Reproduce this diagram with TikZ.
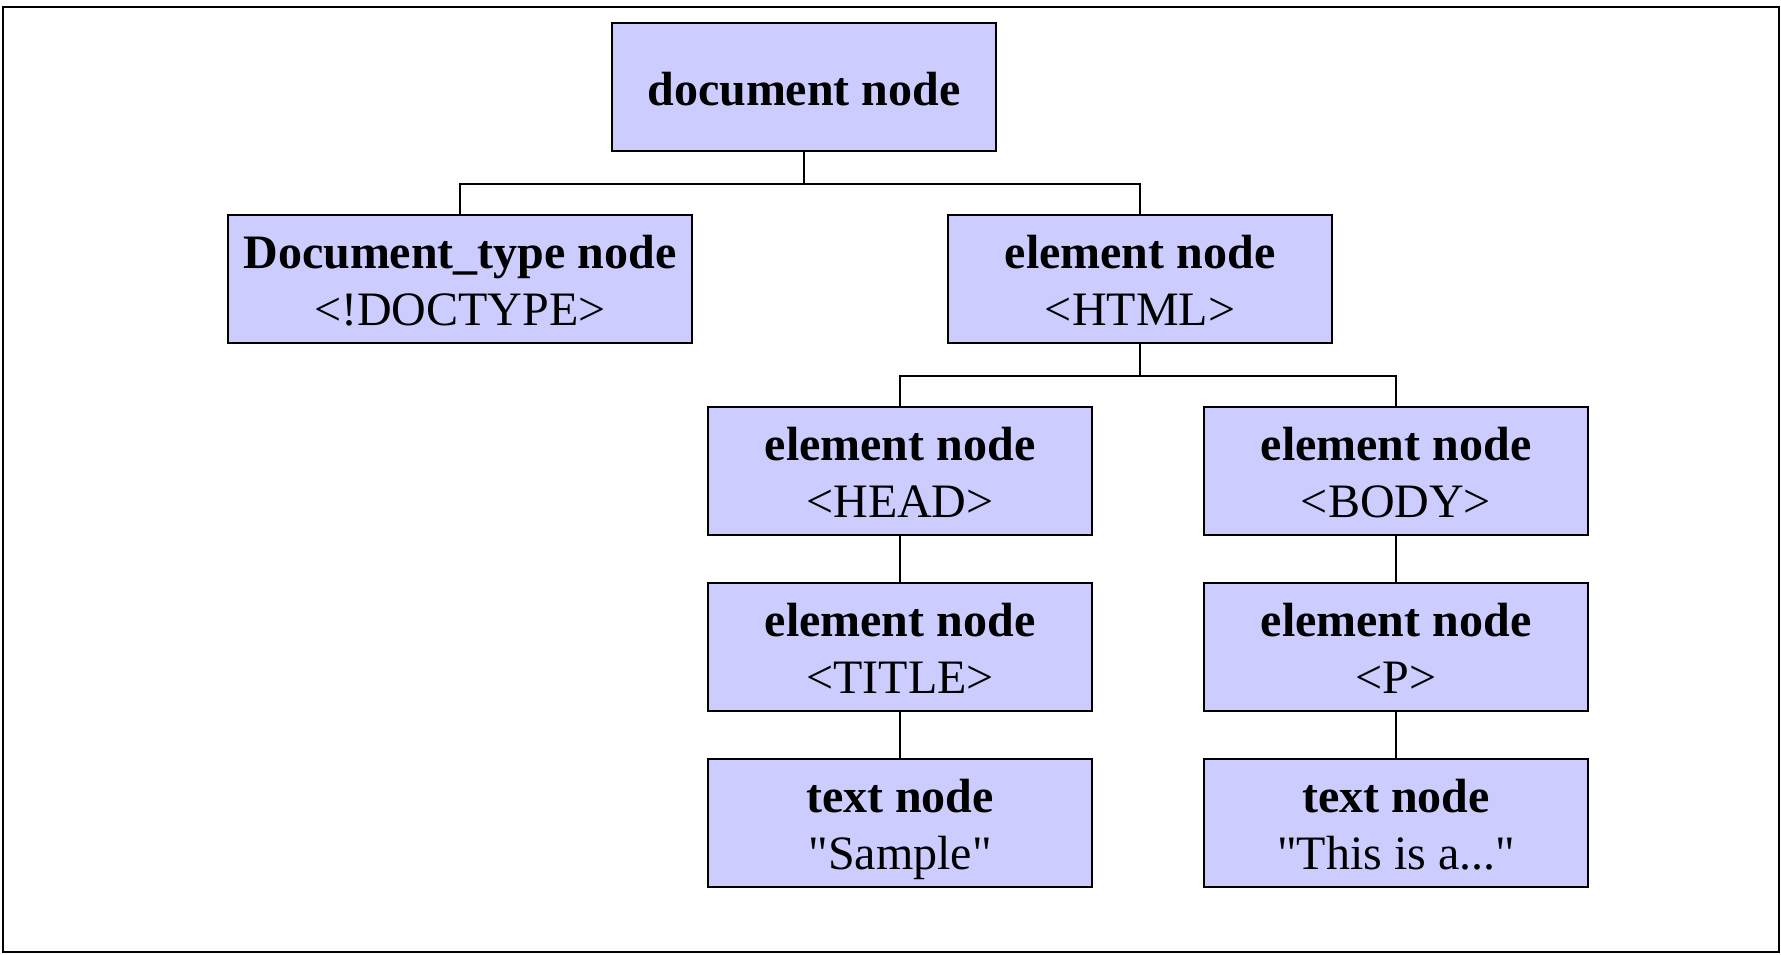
\documentclass[tikz,border=0pt]{standalone}
\usepackage{fontspec}
\setmainfont{Liberation Serif}
\definecolor{boxfill}{HTML}{CCCCFF}
\newcommand{\twolines}[2]{\rule{0pt}{54pt}\textbf{#1}\\\strut #2}
\begin{document}
\begin{tikzpicture}[x=1pt,y=1pt,
  treebox/.style={draw=black, line width=1.8pt, fill=boxfill, align=center,
    minimum width=384pt, minimum height=128pt, inner sep=0pt,
    font=\fontsize{48}{57}\selectfont},
  link/.style={draw=black, line width=1.8pt}]
\useasboundingbox (0,0) rectangle (1781,-955);
\draw[line width=1.6pt] (3,-7) rectangle (1779,-952);

\node[treebox] (doc) at (804,-87) {\rule{0pt}{37pt}\textbf{document node}};
\node[treebox, minimum width=464pt] (dtype) at (460,-279) {\twolines{Document\_type node}{<!DOCTYPE>}};
\node[treebox] (html) at (1140,-279) {\twolines{element node}{<HTML>}};
\node[treebox] (head) at (900,-471) {\twolines{element node}{<HEAD>}};
\node[treebox] (body) at (1396,-471) {\twolines{element node}{<BODY>}};
\node[treebox] (title) at (900,-647) {\twolines{element node}{<TITLE>}};
\node[treebox] (para) at (1396,-647) {\twolines{element node}{<P>}};
\node[treebox] (txt1) at (900,-823) {\twolines{text node}{\textquotedbl Sample\textquotedbl}};
\node[treebox] (txt2) at (1396,-823) {\twolines{text node}{\textquotedbl This is a...\textquotedbl}};

\draw[link] (doc.south) -- ([yshift=-32pt]doc.south) -| (dtype.north);
\draw[link] ([yshift=-32pt]doc.south) -| (html.north);
\draw[link] (html.south) -- ([yshift=-32pt]html.south) -| (head.north);
\draw[link] ([yshift=-32pt]html.south) -| (body.north);
\draw[link] (head.south) -- (title.north);
\draw[link] (title.south) -- (txt1.north);
\draw[link] (body.south) -- (para.north);
\draw[link] (para.south) -- (txt2.north);
\end{tikzpicture}
\end{document}
